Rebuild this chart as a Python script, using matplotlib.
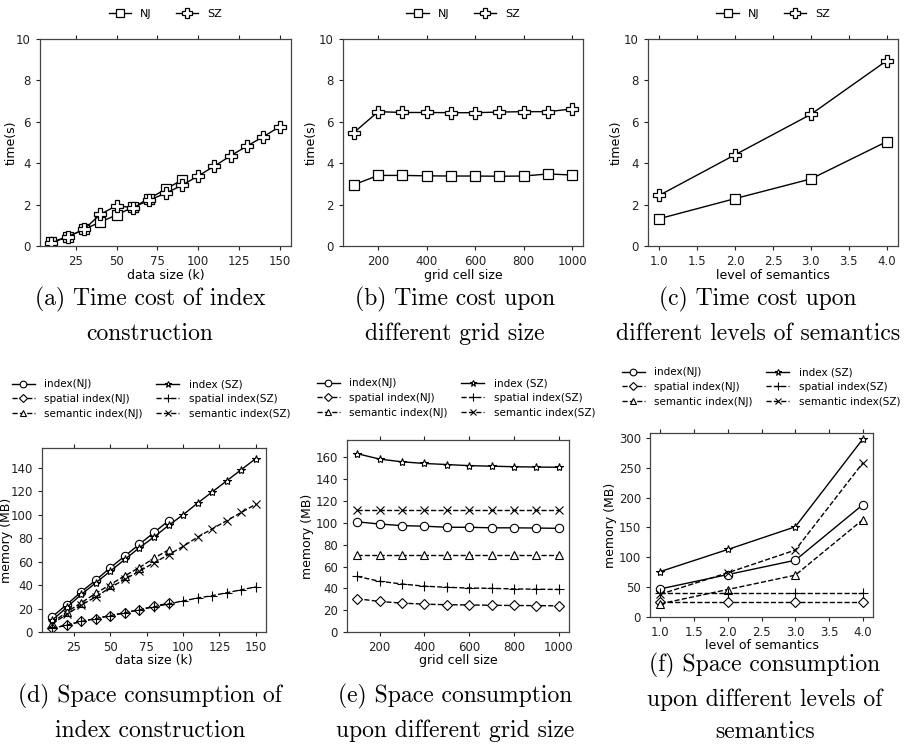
import matplotlib
matplotlib.use('Agg')
import matplotlib.pyplot as plt

# (a) time cost of index construction
a_x_nj = [10, 20, 30, 40, 50, 60, 70, 80, 90]
a_nj = [0.18, 0.45, 0.8, 1.16, 1.5, 1.87, 2.29, 2.74, 3.19]
a_x_sz = [10, 20, 30, 40, 50, 60, 70, 80, 90, 100, 110, 120, 130, 140, 150]
a_sz = [0.15, 0.45, 0.8, 1.53, 1.95, 1.85, 2.22, 2.54, 2.93, 3.38, 3.86, 4.36, 4.83, 5.28, 5.76]

# (b) time cost vs grid size
b_x = [100, 200, 300, 400, 500, 600, 700, 800, 900, 1000]
b_nj = [2.96, 3.41, 3.41, 3.39, 3.38, 3.38, 3.37, 3.38, 3.48, 3.43]
b_sz = [5.48, 6.49, 6.45, 6.45, 6.44, 6.44, 6.47, 6.49, 6.49, 6.62]

# (c) time cost vs level of semantics
c_x = [1.0, 2.0, 3.0, 4.0]
c_nj = [1.32, 2.29, 3.24, 5.04]
c_sz = [2.45, 4.41, 6.36, 8.95]

# (d) space consumption vs data size
d_index_nj = [13, 23.4, 34.3, 44.3, 54.9, 64.9, 74.9, 84.9, 94.9]
d_spatial_nj = [3, 6, 9, 11.5, 14, 16.5, 19, 22, 24.5]
d_semantic_nj = [8, 17, 25, 33, 40.5, 48, 55, 63, 70]
d_index_sz = [10, 21, 32, 42, 52, 62, 72, 81, 91, 100, 110, 119.5, 129, 138.5, 148]
d_spatial_sz = [3, 6, 9, 11.5, 14, 16.5, 19, 21.5, 24, 26.5, 29, 31, 33.5, 36, 38.5]
d_semantic_sz = [7, 15, 23, 30, 38, 45, 52, 59, 66, 73, 81, 88, 95, 102, 109]

# (e) space consumption vs grid size
e_index_nj = [101, 99, 97.5, 97, 96, 96, 95.5, 95.5, 95.3, 95]
e_spatial_nj = [30.5, 28, 26.5, 25.5, 25, 24.8, 24.5, 24.3, 24.2, 24]
e_semantic_nj = [71, 71, 71, 71, 71, 71, 71, 71, 71, 71]
e_index_sz = [163.5, 158.5, 156, 154.5, 153.5, 152.5, 152, 151.5, 151.2, 151]
e_spatial_sz = [51, 46.5, 44, 42, 41, 40.3, 40, 39.5, 39.2, 39]
e_semantic_sz = [112, 112, 112, 112, 112, 112, 112, 112, 112, 112]

# (f) space consumption vs level of semantics
f_index_nj = [47, 71, 95, 188]
f_spatial_nj = [25, 25, 25, 25]
f_semantic_nj = [22, 46, 70, 163]
f_index_sz = [76, 113, 151, 298]
f_spatial_sz = [40, 40, 40, 40]
f_semantic_sz = [38, 74, 112, 258]

captions = ['(a) Time cost of index\nconstruction',
            '(b) Time cost upon\ndifferent grid size',
            '(c) Time cost upon\ndifferent levels of semantics',
            '(d) Space consumption of\nindex construction',
            '(e) Space consumption\nupon different grid size',
            '(f) Space consumption\nupon different levels of\nsemantics']

fig = plt.figure(figsize=(9.09, 7.48), dpi=100)
W, H = 909., 748.

def box(x0, x1, y0, y1):
    return [x0 / W, 1 - y1 / H, (x1 - x0) / W, (y1 - y0) / H]

ax_a = fig.add_axes(box(40, 291, 39, 246))
ax_b = fig.add_axes(box(343, 583, 39, 246))
ax_c = fig.add_axes(box(648, 898, 39, 246))
ax_d = fig.add_axes(box(42, 266, 448, 632))
ax_e = fig.add_axes(box(347, 569, 440, 632))
ax_f = fig.add_axes(box(650, 873, 433, 617))

TK = 8.5
LB = 9

def style(ax):
    for s in ax.spines.values():
        s.set_color('#444444')
        s.set_linewidth(0.9)
    ax.tick_params(top=True, labelsize=TK, length=3, width=0.8, colors='#222222')

# top row
top_kw = dict(color='black', lw=1, mec='black', mfc='white')
for ax, xs_nj, y_nj, xs_sz, y_sz, xl, ylx in [
        (ax_a, a_x_nj, a_nj, a_x_sz, a_sz, 'data size (k)', -0.09),
        (ax_b, b_x, b_nj, b_x, b_sz, 'grid cell size', -0.105),
        (ax_c, c_x, c_nj, c_x, c_sz, 'level of semantics', -0.1)]:
    ax.plot(xs_nj, y_nj, marker='s', ms=7, mew=0.9, label='NJ', **top_kw)
    ax.plot(xs_sz, y_sz, marker='P', ms=8, mew=0.9, label='SZ', **top_kw)
    ax.set_ylim(0, 10)
    ax.set_yticks([0, 2, 4, 6, 8, 10])
    ax.set_ylabel('time(s)', fontsize=LB)
    ax.yaxis.set_label_coords(ylx, 0.5)
    ax.set_xlabel(xl, fontsize=LB, labelpad=1)
    style(ax)
    pos = ax.get_position()
    ax.legend(loc='center', bbox_to_anchor=(pos.x0 + pos.width / 2, 1 - 14 / H),
              bbox_transform=fig.transFigure, ncol=2, frameon=False,
              fontsize=8, handlelength=2, columnspacing=2.2, markerscale=0.85)

ax_a.set_xticks([25, 50, 75, 100, 125, 150])
ax_b.set_xticks([200, 400, 600, 800, 1000])
ax_c.set_xticks([1.0, 1.5, 2.0, 2.5, 3.0, 3.5, 4.0])

# bottom row
bot = [(ax_d, a_x_nj, a_x_sz, d_index_nj, d_spatial_nj, d_semantic_nj,
        d_index_sz, d_spatial_sz, d_semantic_sz, 'data size (k)', 157, 399, 151),
       (ax_e, b_x, b_x, e_index_nj, e_spatial_nj, e_semantic_nj,
        e_index_sz, e_spatial_sz, e_semantic_sz, 'grid cell size', 176, 398, 456),
       (ax_f, c_x, c_x, f_index_nj, f_spatial_nj, f_semantic_nj,
        f_index_sz, f_spatial_sz, f_semantic_sz, 'level of semantics', 308, 387, 761)]

for (ax, xn, xs, inj, snj, mnj, isz, ssz, msz, xl, ytop, ly, lx) in bot:
    kw = dict(color='black', lw=1, mec='black', mfc='white', mew=0.8)
    ax.plot(xn, inj, ls='-', marker='o', ms=6, label='index(NJ)', **kw)
    ax.plot(xn, snj, ls='--', marker='D', ms=5.5, label='spatial index(NJ)', **kw)
    ax.plot(xn, mnj, ls='--', marker='^', ms=6, label='semantic index(NJ)', **kw)
    ax.plot(xs, isz, ls='-', marker='*', ms=6, label='index (SZ)', **kw)
    ax.plot(xs, ssz, ls='--', marker='+', ms=7, label='spatial index(SZ)', **kw)
    ax.plot(xs, msz, ls='--', marker='x', ms=6, label='semantic index(SZ)', **kw)
    ax.set_ylim(0, ytop)
    ax.set_ylabel('memory (MB)', fontsize=LB, labelpad=1)
    ax.set_xlabel(xl, fontsize=LB, labelpad=0)
    style(ax)
    ax.legend(loc='center', bbox_to_anchor=(lx / W, 1 - ly / H),
              bbox_transform=fig.transFigure, ncol=2, frameon=False,
              fontsize=7.5, handlelength=2.2, columnspacing=1.3,
              labelspacing=0.45, handletextpad=0.9, markerscale=0.8)

ax_d.yaxis.set_label_coords(-0.13, 0.5)

ax_d.set_xticks([25, 50, 75, 100, 125, 150])
ax_d.set_yticks([0, 20, 40, 60, 80, 100, 120, 140])
ax_e.set_xticks([200, 400, 600, 800, 1000])
ax_e.set_yticks([0, 20, 40, 60, 80, 100, 120, 140, 160])
ax_f.set_xticks([1.0, 1.5, 2.0, 2.5, 3.0, 3.5, 4.0])
ax_f.set_yticks([0, 50, 100, 150, 200, 250, 300])

# captions
cap_pos = [(150, 316), (455, 316), (758, 316), (150, 713), (455, 713), (765, 698)]
for txt, (cx, cy) in zip(captions, cap_pos):
    fig.text(cx / W, 1 - cy / H, txt, ha='center', va='center',
             fontsize=17, family='cmr10', linespacing=1.6)

fig.savefig('out.png', dpi=100)
